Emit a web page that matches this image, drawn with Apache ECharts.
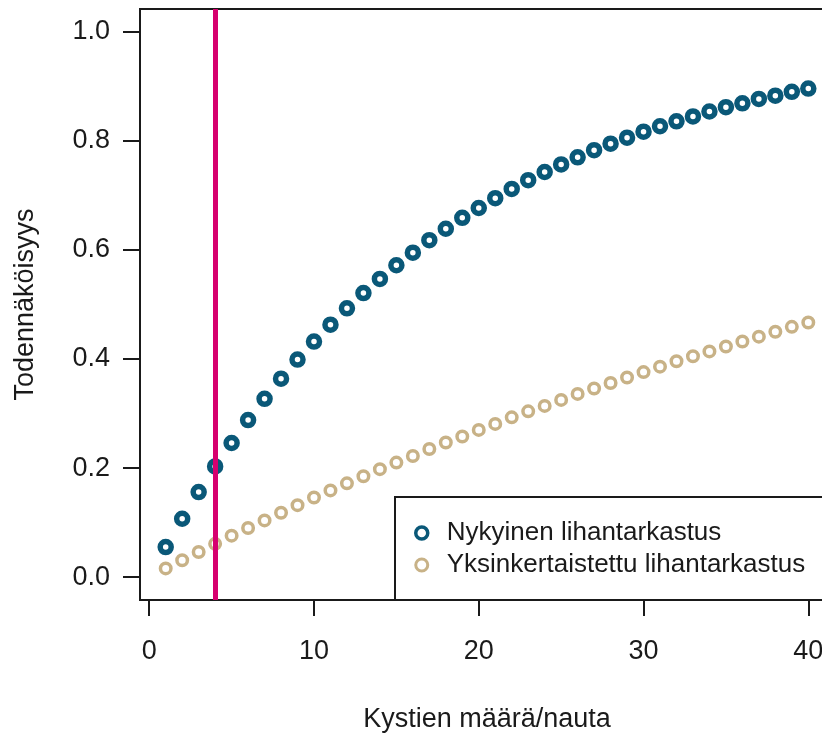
<!DOCTYPE html>
<html>
<head>
<meta charset="utf-8">
<script src="https://cdn.jsdelivr.net/npm/echarts@6/dist/echarts.min.js"></script>
<style>
  html, body { margin: 0; padding: 0; background: #fff; }
  #chart { width: 822px; height: 735px; }
</style>
</head>
<body>
<div id="chart"></div>
<script>
// Number of cysts per animal (x) and detection probability for the two inspection methods
const cysts = [1,2,3,4,5,6,7,8,9,10,11,12,13,14,15,16,17,18,19,20,
               21,22,23,24,25,26,27,28,29,30,31,32,33,34,35,36,37,38,39,40];
const currentInspection = [0.055,0.107,0.156,0.203,0.246,0.288,0.327,0.364,0.399,0.432,
                           0.463,0.493,0.521,0.547,0.572,0.595,0.618,0.639,0.659,0.677,
                           0.695,0.712,0.728,0.743,0.757,0.770,0.783,0.795,0.806,0.817,
                           0.827,0.836,0.845,0.854,0.862,0.869,0.877,0.883,0.890,0.896];
const simplifiedInspection = [0.016,0.031,0.046,0.061,0.076,0.090,0.104,0.118,0.132,0.146,
                              0.159,0.172,0.185,0.198,0.210,0.222,0.235,0.247,0.258,0.270,
                              0.281,0.293,0.304,0.314,0.325,0.336,0.346,0.356,0.366,0.376,
                              0.386,0.396,0.405,0.414,0.423,0.432,0.441,0.450,0.459,0.467];
const xTicks = [0, 10, 20, 30, 40];
const yTicks = [0, 0.2, 0.4, 0.6, 0.8, 1.0];
const referenceCysts = 4;
const seriesNames = ['Nykyinen lihantarkastus', 'Yksinkertaistettu lihantarkastus'];

const FONT = "'Liberation Sans', Arial, sans-serif";
const BLUE = '#0a5878';
const TAN = '#c8b287';
const MAGENTA = '#d6006f';
const INK = '#1a1a1a';

const pairs = (xs, ys) => xs.map((x, i) => [x, ys[i]]);

const chart = echarts.init(document.getElementById('chart'), null, { renderer: 'canvas' });
chart.setOption({
  animation: false,
  backgroundColor: '#fff',
  grid: {
    left: 140, top: 9, width: 694, height: 591,
    containLabel: false, outerBoundsMode: 'none',
    show: true, borderColor: INK, borderWidth: 2, backgroundColor: 'transparent'
  },
  xAxis: {
    type: 'value', min: -0.56, max: 41.56,
    name: 'Kystien määrä/nauta', nameLocation: 'middle', nameGap: 106,
    nameTextStyle: { fontFamily: FONT, fontSize: 27, color: INK },
    axisLine: { show: false, onZero: false },
    splitLine: { show: false },
    axisTick: { show: true, inside: false, length: 16, customValues: xTicks,
                lineStyle: { color: INK, width: 2 } },
    axisLabel: { customValues: xTicks, margin: 38, fontFamily: FONT, fontSize: 27, color: INK,
                 hideOverlap: false }
  },
  yAxis: {
    type: 'value', min: -0.042, max: 1.042,
    name: 'Todennäköisyys', nameLocation: 'middle', nameGap: 101,
    nameTextStyle: { fontFamily: FONT, fontSize: 27, color: INK },
    axisLine: { show: false, onZero: false },
    splitLine: { show: false },
    axisTick: { show: true, inside: false, length: 17, customValues: yTicks,
                lineStyle: { color: INK, width: 2 } },
    axisLabel: { customValues: yTicks, margin: 30, fontFamily: FONT, fontSize: 27, color: INK,
                 formatter: v => v.toFixed(1) }
  },
  legend: {
    orient: 'vertical', left: 414, top: 520, padding: 0, z: 10,
    itemWidth: 12, itemHeight: 12, itemGap: 6,
    textStyle: { fontFamily: FONT, fontSize: 26, color: INK, padding: [0, 0, 0, 14] },
    data: [
      { name: seriesNames[0], icon: 'circle',
        itemStyle: { color: '#fff', borderColor: BLUE, borderWidth: 3.5 } },
      { name: seriesNames[1], icon: 'circle',
        itemStyle: { color: '#fff', borderColor: TAN, borderWidth: 3 } }
    ]
  },
  graphic: [{
    type: 'rect', z: 1,
    shape: { x: 395, y: 497, width: 460, height: 103 },
    style: { fill: '#fff', stroke: INK, lineWidth: 2 }
  }],
  series: [
    {
      name: seriesNames[1], type: 'scatter', z: 2,
      data: pairs(cysts, simplifiedInspection),
      symbol: 'circle', symbolSize: 10.5,
      itemStyle: { color: '#fff', borderColor: TAN, borderWidth: 3.5, opacity: 1 }
    },
    {
      name: seriesNames[0], type: 'scatter', z: 3,
      data: pairs(cysts, currentInspection),
      symbol: 'circle', symbolSize: 11,
      itemStyle: { color: '#fff', borderColor: BLUE, borderWidth: 5.5, opacity: 1 },
      markLine: {
        silent: true, symbol: 'none', z: 4,
        label: { show: false },
        lineStyle: { color: MAGENTA, width: 5, type: 'solid' },
        data: [{ xAxis: referenceCysts }]
      }
    }
  ]
});
</script>
</body>
</html>
